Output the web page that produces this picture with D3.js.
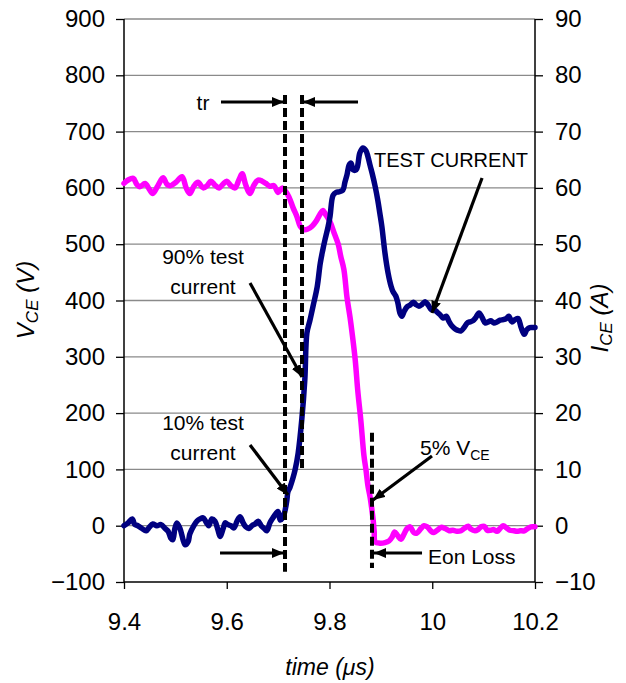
<!DOCTYPE html>
<html><head><meta charset="utf-8">
<script src="https://cdn.jsdelivr.net/npm/d3@7"></script>
<style>body{margin:0;background:#fff}svg{display:block}</style>
</head><body><svg id="c" width="626" height="683"></svg>
<script>
// ---- data ----
const vceTime = [9.400,9.408,9.418,9.425,9.431,9.441,9.449,9.456,9.466,9.476,9.484,9.491,9.501,9.513,9.521,9.528,9.536,9.544,9.554,9.562,9.569,9.577,9.585,9.593,9.600,9.608,9.616,9.624,9.630,9.637,9.645,9.653,9.661,9.669,9.676,9.684,9.692,9.700,9.708,9.713,9.721,9.729,9.737,9.743,9.750,9.758,9.766,9.774,9.782,9.787,9.793,9.801,9.809,9.817,9.822,9.828,9.834,9.840,9.844,9.850,9.855,9.861,9.867,9.871,9.875,9.879,9.883,9.885,9.887,9.889,9.898,9.908,9.916,9.922,9.927,9.933,9.939,9.945,9.951,9.957,9.964,9.970,9.978,9.984,9.990,9.998,10.003,10.011,10.017,10.025,10.033,10.040,10.048,10.056,10.062,10.070,10.075,10.083,10.089,10.095,10.101,10.107,10.114,10.120,10.126,10.132,10.138,10.146,10.151,10.159,10.165,10.171,10.179,10.184,10.192,10.200];
const vceValues = [608,614,617,606,602,608,598,590,604,618,606,604,610,620,600,590,603,610,600,604,612,605,600,607,612,604,600,615,625,605,590,605,614,612,608,603,604,592,600,596,584,565,548,532,526,527,532,541,554,560,552,540,520,500,478,455,406,370,342,295,240,187,125,99,70,51,25,10,-10,-29,-31,-30,-27,-20,-11,-18,-24,-15,-5,-2,-12,-13,-5,0,-2,-10,-12,-7,-3,-5,-9,-8,-10,-9,-5,-1,-6,-9,-7,-2,-1,-8,-8,-7,-10,-5,0,-5,-8,-9,-10,-9,-9,-6,-2,-2];
const iceTime = [9.400,9.408,9.416,9.421,9.427,9.435,9.443,9.449,9.456,9.464,9.472,9.480,9.486,9.491,9.495,9.499,9.503,9.509,9.515,9.519,9.525,9.528,9.536,9.542,9.548,9.554,9.560,9.565,9.571,9.577,9.583,9.587,9.593,9.597,9.602,9.608,9.614,9.620,9.626,9.632,9.637,9.643,9.649,9.655,9.661,9.667,9.673,9.678,9.684,9.690,9.696,9.700,9.704,9.709,9.713,9.717,9.719,9.723,9.729,9.733,9.739,9.746,9.752,9.756,9.762,9.768,9.776,9.782,9.787,9.791,9.797,9.801,9.807,9.813,9.818,9.826,9.830,9.834,9.838,9.842,9.846,9.852,9.855,9.859,9.865,9.871,9.875,9.879,9.883,9.889,9.894,9.898,9.902,9.908,9.914,9.920,9.924,9.929,9.933,9.937,9.941,9.945,9.951,9.957,9.963,9.968,9.974,9.980,9.986,9.992,9.998,10.003,10.009,10.015,10.021,10.027,10.033,10.038,10.044,10.050,10.056,10.062,10.068,10.073,10.079,10.085,10.091,10.097,10.103,10.109,10.114,10.120,10.126,10.132,10.138,10.144,10.149,10.155,10.161,10.167,10.173,10.179,10.184,10.190,10.196,10.200];
const iceValues = [0,0.5,1.2,0.2,0,-0.5,-0.9,-0.3,0.3,0,0.2,-0.5,-1.0,-2.2,-2.5,-0.5,0.5,-0.5,-2.5,-3.4,-2.8,-1.5,0,0.8,1.2,1.4,0.6,0,1.2,0.8,-0.8,-1.9,-0.5,0.5,0.2,0,-0.4,0.8,1.6,0.5,-0.2,-0.5,0,0.3,0.8,0,-0.5,-0.9,0.5,1.4,2.2,2.5,1.0,1.4,2.5,4.5,6.0,6.8,8.5,9.9,12.9,18.8,26.0,34.2,36.5,39.0,42.4,46.6,49.0,50.7,53.0,54.9,58.7,59.2,59.3,59.6,61.0,62.3,64.0,64.4,63.2,63.2,64.0,66.2,67.1,66.6,65.5,64.0,62.6,60.2,57.8,55.5,53.1,48.4,44.9,42.5,41.5,40.8,39.6,37.8,37.2,38.0,38.9,39.2,39.7,39.3,39.0,39.3,39.8,39.2,38.4,38.4,38.0,37.5,36.9,37.2,36.2,35.5,35.0,34.7,34.6,35.2,36.0,36.2,36.4,37.0,37.8,37.0,36.0,36.2,36.4,36.0,36.2,36.5,36.6,36.8,37.2,36.2,36.6,36.8,35.2,34.0,34.8,35.2,35.2,35.2];
const timeTicks = [9.4, 9.6, 9.8, 10, 10.2];
const timeTickLabels = ["9.4", "9.6", "9.8", "10", "10.2"];
const vceTicks = [-100,0,100,200,300,400,500,600,700,800,900];
const iceTicks = [-10,0,10,20,30,40,50,60,70,80,90];
// marker lines in data units [time, V from, V to]
const markerLines = [[9.7134, 765, -82], [9.7465, 765, 100], [9.8827, 165, -75]];

// ---- layout ----
const svg = d3.select("#c");
const L = 124, R = 535, T = 19, B = 582;
const FONT = "'Liberation Sans', Arial, Helvetica, sans-serif";
const x = d3.scaleLinear().domain([9.4, 10.2]).range([L, R]);
const yV = d3.scaleLinear().domain([-100, 900]).range([B, T]);
const yI = d3.scaleLinear().domain([-10, 90]).range([B, T]);

svg.append("rect").attr("width", 626).attr("height", 683).attr("fill", "#fff");

// gridlines
svg.append("g").selectAll("line").data(vceTicks.filter(d => d > -100)).join("line")
  .attr("x1", L).attr("x2", R).attr("y1", d => yV(d)).attr("y2", d => yV(d))
  .attr("stroke", "#8a8a8a").attr("stroke-width", 1.3);

// axes
const axStyle = g => {
  g.select(".domain").remove();
  g.selectAll(".tick line").attr("stroke", "#000").attr("stroke-width", 1.3);
  g.selectAll(".tick text").attr("font-family", FONT).attr("font-size", 24).attr("fill", "#000");
};
svg.append("g").attr("transform", `translate(${L},0)`)
  .call(d3.axisLeft(yV).tickValues(vceTicks).tickSize(8).tickPadding(11).tickFormat(d3.format("d")))
  .call(axStyle);
svg.append("g").attr("transform", `translate(${R},0)`)
  .call(d3.axisRight(yI).tickValues(iceTicks).tickSize(8).tickPadding(12).tickFormat(d3.format("d")))
  .call(axStyle);
svg.append("g").attr("transform", `translate(0,${B})`)
  .call(d3.axisBottom(x).tickValues(timeTicks).tickSize(7).tickPadding(24).tickFormat((d, i) => timeTickLabels[i]))
  .call(axStyle);

// axis lines
svg.append("line").attr("x1", L).attr("x2", L).attr("y1", T).attr("y2", B).attr("stroke", "#000").attr("stroke-width", 1.5);
svg.append("line").attr("x1", R).attr("x2", R).attr("y1", T).attr("y2", B).attr("stroke", "#000").attr("stroke-width", 1.5);
svg.append("line").attr("x1", L).attr("x2", R).attr("y1", B).attr("y2", B).attr("stroke", "#000").attr("stroke-width", 1.5);

// series
const lineV = d3.line().x((d, i) => x(vceTime[i])).y(d => yV(d)).curve(d3.curveCatmullRom.alpha(0.5));
const lineI = d3.line().x((d, i) => x(iceTime[i])).y(d => yI(d)).curve(d3.curveCatmullRom.alpha(0.5));
svg.append("path").attr("d", lineV(vceValues)).attr("fill", "none").attr("stroke", "#FF00FF")
  .attr("stroke-width", 5.5).attr("stroke-linejoin", "round").attr("stroke-linecap", "round");
svg.append("path").attr("d", lineI(iceValues)).attr("fill", "none").attr("stroke", "#000080")
  .attr("stroke-width", 5.5).attr("stroke-linejoin", "round").attr("stroke-linecap", "round");

// dashed marker lines
svg.append("g").selectAll("line").data(markerLines).join("line")
  .attr("x1", d => x(d[0])).attr("x2", d => x(d[0])).attr("y1", d => yV(d[1])).attr("y2", d => yV(d[2]))
  .attr("stroke", "#000").attr("stroke-width", 4).attr("stroke-dasharray", "9,4");

// arrow marker
svg.append("defs").append("marker").attr("id", "ah").attr("viewBox", "0 0 12 10")
  .attr("refX", 12).attr("refY", 5).attr("markerWidth", 12).attr("markerHeight", 10)
  .attr("markerUnits", "userSpaceOnUse").attr("orient", "auto")
  .append("path").attr("d", "M0,0 L12,5 L0,10 Z").attr("fill", "#000");

const arrows = [
  [9.5888, 752.6, 9.7114, 752.6],
  [9.8555, 752.6, 9.7484, 752.6],
  [10.0969, 617.6, 9.9995, 377.8],
  [9.6453, 431.1, 9.7465, 264.1],
  [9.6453, 143.3, 9.7192, 54.5],
  [9.9995, 123.8, 9.8847, 45.6],
  [9.9801, -48.5, 9.8866, -48.5],
  [9.5869, -48.5, 9.7114, -48.5]
];
svg.append("g").selectAll("line").data(arrows).join("line")
  .attr("x1", d => x(d[0])).attr("y1", d => yV(d[1])).attr("x2", d => x(d[2])).attr("y2", d => yV(d[3]))
  .attr("stroke", "#000").attr("stroke-width", 3.2).attr("marker-end", "url(#ah)");

// annotation texts
const txt = (t, v, s, anchor) => svg.append("text").attr("x", x(t)).attr("y", yV(v)).attr("dy", "0.35em")
  .attr("text-anchor", anchor || "middle").attr("font-family", FONT).attr("font-size", 21).attr("fill", "#000").text(s);
txt(9.5538, 750.8, "tr");
txt(10.0365, 649.6, "TEST CURRENT").attr("font-size", 20);
txt(9.5538, 477.3, "90% test");
txt(9.5538, 424.0, "current");
txt(9.5538, 182.4, "10% test");
txt(9.5538, 129.1, "current");
const t5 = txt(9.9762, 138, "5% V", "start");
t5.append("tspan").attr("font-size", 14).attr("dy", "0.35em").text("CE");
txt(9.9917, -55.6, "Eon Loss", "start");

// axis titles
const lt = svg.append("text").attr("transform", "translate(34,300) rotate(-90)").attr("text-anchor", "middle")
  .attr("font-family", FONT).attr("font-size", 24).attr("font-style", "italic");
lt.append("tspan").text("V");
lt.append("tspan").attr("font-size", 17).attr("dy", 4).text("CE");
lt.append("tspan").attr("dy", -4).text(" (V)");
const rt = svg.append("text").attr("transform", "translate(608,318) rotate(-90)").attr("text-anchor", "middle")
  .attr("font-family", FONT).attr("font-size", 24).attr("font-style", "italic");
rt.append("tspan").text("I");
rt.append("tspan").attr("font-size", 17).attr("dy", 4).text("CE");
rt.append("tspan").attr("dy", -4).text(" (A)");
svg.append("text").attr("x", 330).attr("y", 675).attr("text-anchor", "middle")
  .attr("font-family", FONT).attr("font-size", 23).attr("font-style", "italic").text("time (μs)");
</script>
</body></html>
